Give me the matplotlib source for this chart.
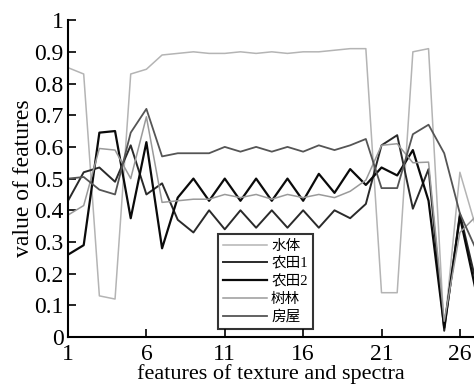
import matplotlib
matplotlib.use('Agg')
import matplotlib.pyplot as plt

plt.rcParams['font.family'] = ['Liberation Serif', 'Noto Sans CJK SC']

features = list(range(1, 28))
labels = ['水体', '农田1', '农田2', '树林', '房屋']

water = [0.85, 0.83, 0.13, 0.12, 0.83, 0.845, 0.89, 0.895, 0.90, 0.895, 0.895, 0.90, 0.895, 0.90,
         0.895, 0.90, 0.90, 0.905, 0.91, 0.91, 0.14, 0.14, 0.90, 0.91, 0.02, 0.52, 0.35]
farm1 = [0.43, 0.52, 0.535, 0.49, 0.605, 0.45, 0.485, 0.37, 0.33, 0.40, 0.34, 0.40, 0.345, 0.40,
         0.345, 0.40, 0.345, 0.40, 0.375, 0.42, 0.605, 0.637, 0.405, 0.53, 0.02, 0.39, 0.18]
farm2 = [0.26, 0.29, 0.645, 0.65, 0.375, 0.615, 0.28, 0.44, 0.50, 0.43, 0.50, 0.43, 0.50, 0.43,
         0.50, 0.43, 0.515, 0.455, 0.53, 0.48, 0.535, 0.51, 0.59, 0.43, 0.03, 0.38, 0.15]
forest = [0.385, 0.415, 0.595, 0.59, 0.50, 0.695, 0.425, 0.43, 0.435, 0.435, 0.45, 0.44, 0.45, 0.435,
          0.45, 0.44, 0.45, 0.44, 0.46, 0.495, 0.605, 0.61, 0.55, 0.552, 0.05, 0.33, 0.38]
house = [0.50, 0.505, 0.465, 0.45, 0.645, 0.72, 0.57, 0.58, 0.58, 0.58, 0.60, 0.585, 0.60, 0.585,
         0.60, 0.585, 0.605, 0.59, 0.605, 0.625, 0.47, 0.47, 0.64, 0.67, 0.58, 0.39, 0.28]

series = [water, farm1, farm2, forest, house]
colors = ['#b4b4b4', '#2a2a2a', '#0a0a0a', '#9a9a9a', '#555555']
widths = [1.1, 1.4, 1.6, 1.1, 1.3]

fig = plt.figure(figsize=(4.74, 3.87), dpi=100)
ax = fig.add_axes([0.1435, 0.129, 0.8565, 0.819])

for vals, lab, c, w in zip(series, labels, colors, widths):
    ax.plot(features, vals, color=c, lw=w, label=lab)

ax.set_xlim(1, 26.9)
ax.set_ylim(0, 1)
ax.set_xticks([1, 6, 11, 16, 21, 26])
ax.set_yticks([0, 0.1, 0.2, 0.3, 0.4, 0.5, 0.6, 0.7, 0.8, 0.9, 1])
ax.set_yticklabels(['0', '0.1', '0.2', '0.3', '0.4', '0.5', '0.6', '0.7', '0.8', '0.9', '1'])
ax.tick_params(direction='in', length=6, width=1.2, labelsize=17, pad=3)
ax.tick_params(axis='x', pad=5)
ax.spines['top'].set_visible(False)
ax.spines['right'].set_visible(False)
ax.spines['left'].set_linewidth(1.5)
ax.spines['bottom'].set_linewidth(1.5)

ax.set_xlabel('features of texture and spectra', fontsize=16, labelpad=-1)
ax.set_ylabel('value of features', fontsize=17, labelpad=0)

leg = ax.legend(loc='lower left', bbox_to_anchor=(0.369, 0.025),
                fontsize=10.5, frameon=True, fancybox=False, handlelength=3.0,
                labelspacing=0.3, borderpad=0.35, handletextpad=0.3, borderaxespad=0)
leg.get_frame().set_edgecolor('black')
leg.get_frame().set_linewidth(1.5)

fig.savefig('out.png', dpi=100)
